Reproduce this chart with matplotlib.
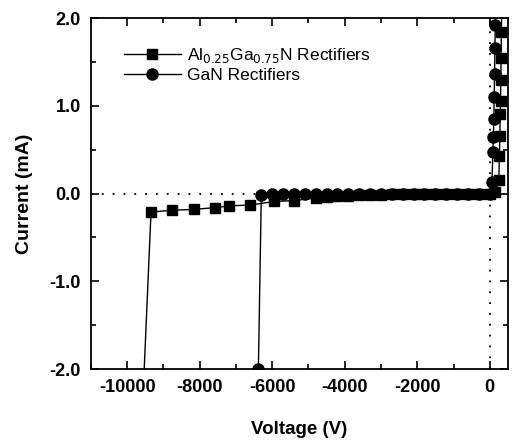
import numpy as np
import matplotlib.pyplot as plt
from matplotlib.ticker import MultipleLocator

plt.rcParams['font.family'] = ['Liberation Sans', 'DejaVu Sans']
plt.rcParams['axes.unicode_minus'] = False

# AlGaN rectifier I-V (voltage in V, current in mA)
algan_v = [-9560, -9340, -8760, -8160, -7590, -7180, -6600, -5950, -5400,
           -4800, -4500, -4200, -3900, -3600, -3300, -3000, -2700, -2400,
           -2100, -1800, -1500, -1200, -900, -600, -300, 0,
           150, 250, 265, 278, 288, 298, 305, 312, 320, 330]
algan_i = [-2.3, -0.21, -0.19, -0.18, -0.16, -0.14, -0.13, -0.09, -0.08,
           -0.05, -0.04, -0.03, -0.03, -0.02, -0.02, -0.02, -0.01, -0.01,
           -0.01, -0.01, -0.01, 0.0, 0.0, 0.0, 0.0, 0.0,
           0.02, 0.15, 0.43, 0.66, 0.91, 1.06, 1.29, 1.54, 1.84, 2.1]

# GaN rectifier I-V
gan_v = [-6380, -6300, -6000, -5700, -5400, -5100, -4800, -4500, -4200,
         -3900, -3600, -3300, -3000, -2700, -2400, -2100, -1800, -1500,
         -1200, -900, -600, -300, 0,
         60, 85, 100, 112, 122, 132, 142, 152, 160]
gan_i = [-2.0, -0.02, -0.01, -0.01, 0.0, 0.0, 0.0, 0.0, 0.0,
         0.0, 0.0, 0.0, 0.0, 0.0, 0.0, 0.0, 0.0, 0.0,
         0.0, 0.0, 0.0, 0.0, 0.0,
         0.13, 0.47, 0.64, 0.85, 1.10, 1.36, 1.66, 1.92, 2.1]

fig = plt.figure(figsize=(5.22, 4.41), dpi=100)
ax = fig.add_axes([0.174, 0.163, 0.799, 0.796])

ax.axhline(0, color='black', ls=(0, (1, 5)), lw=1.3, zorder=1)
ax.axvline(0, color='black', ls=(0, (1, 5)), lw=1.3, zorder=1)

ax.plot(algan_v, algan_i, color='black', lw=1.0, marker='s', ms=7,
        label=r'Al$_{0.25}$Ga$_{0.75}$N Rectifiers', zorder=3)
ax.plot(gan_v, gan_i, color='black', lw=1.0, marker='o', ms=8,
        label='GaN Rectifiers', zorder=3)

ax.set_xlim(-11000, 500)
ax.set_ylim(-2.0, 2.0)
ax.xaxis.set_major_locator(MultipleLocator(2000))
ax.xaxis.set_minor_locator(MultipleLocator(1000))
ax.yaxis.set_major_locator(MultipleLocator(1.0))
ax.yaxis.set_minor_locator(MultipleLocator(0.5))
ax.yaxis.set_major_formatter(plt.FormatStrFormatter('%.1f'))
ax.tick_params(which='both', direction='in', top=True, right=True, width=1.2)
ax.tick_params(which='major', length=6, labelsize=13, pad=7)
ax.tick_params(which='minor', length=3.5)
for lab in ax.get_xticklabels() + ax.get_yticklabels():
    lab.set_fontweight('bold')
for s in ax.spines.values():
    s.set_linewidth(1.3)

ax.set_xlabel('Voltage (V)', fontsize=13.5, fontweight='bold', labelpad=18)
ax.set_ylabel('Current (mA)', fontsize=14, fontweight='bold', labelpad=12)

ax.legend(loc='upper left', bbox_to_anchor=(0.05, 0.955), frameon=False,
          fontsize=12.5, handlelength=3.3, handletextpad=0.35,
          labelspacing=0.15, borderaxespad=0.3)

fig.savefig('out.png', dpi=100)
